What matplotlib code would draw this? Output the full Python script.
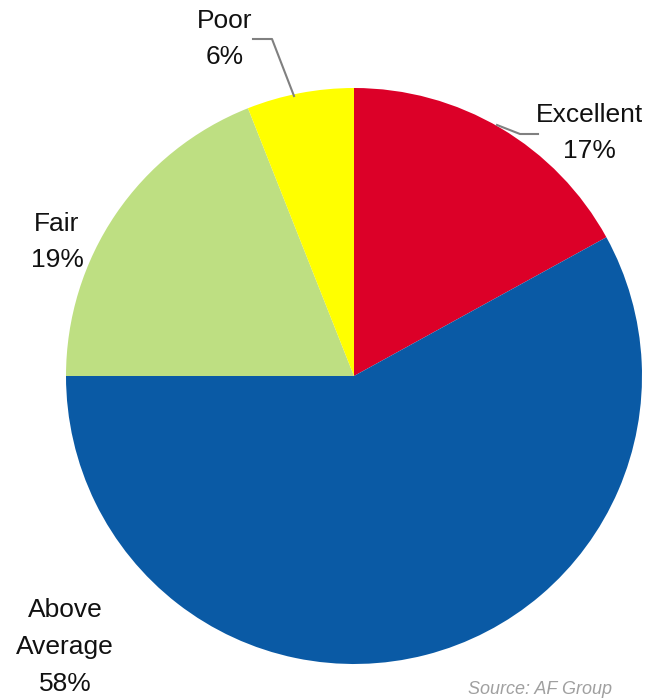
import matplotlib
matplotlib.use("Agg")
import matplotlib.pyplot as plt

categories = ["Excellent", "Above Average", "Fair", "Poor"]
values = [17, 58, 19, 6]
colors = ["#DC0028", "#0A5AA5", "#BEDF82", "#FFFF00"]

fam = "Liberation Sans"

W, H = 650, 698
fig = plt.figure(figsize=(W / 100, H / 100), dpi=100)
cx, cy, R = 354, 376, 288
ax = fig.add_axes([(cx - R) / W, (H - cy - R) / H, 2 * R / W, 2 * R / H])
ax.pie(values, colors=colors, startangle=90, counterclock=False, radius=1,
       wedgeprops=dict(linewidth=0))
ax.set_xlim(-1, 1)
ax.set_ylim(-1, 1)
ax.set_aspect("equal")
ax.axis("off")

def d(px, py):
    return ((px - cx) / R, (cy - py) / R)

# label positions (pixels) for centre of text blocks
label_pos = {
    "Poor": (225, 39),
    "Excellent": (589, 133),
    "Fair": (57, 242),
    "Above Average": (65, 647),
}
for cat, val in zip(categories, values):
    name = cat.replace(" ", "\n")
    x, y = d(*label_pos[cat])
    ax.text(x, y, f"{name}\n{val}%", ha="center", va="center", fontsize=19,
            family=fam, color="#111111", linespacing=1.68, clip_on=False)

# leader lines
for pts in ([(253, 39), (272, 39), (294, 96)], [(538, 134), (520, 134), (497, 125)]):
    xs, ys = zip(*[d(*p) for p in pts])
    ax.plot(xs, ys, color="#808080", lw=1.5, clip_on=False)

fig.text(468 / W, 1 - 694 / H, "Source: AF Group", fontsize=13, family=fam,
         style="italic", color="#A0A0A0", ha="left", va="baseline")

fig.savefig("out.png", dpi=100)
